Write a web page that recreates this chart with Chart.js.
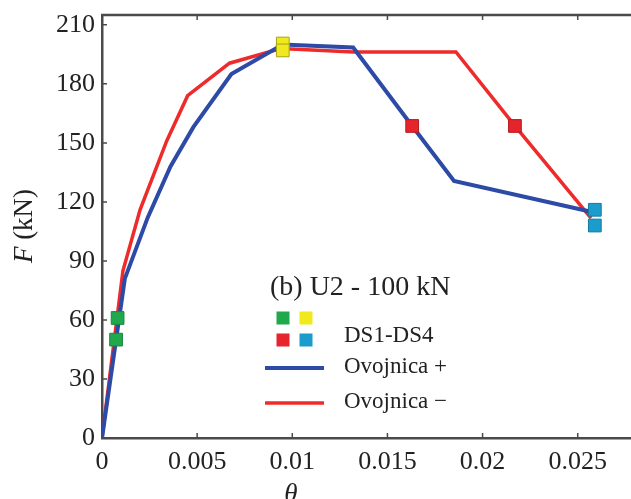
<!DOCTYPE html>
<html>
<head>
<meta charset="utf-8">
<script src="https://cdn.jsdelivr.net/npm/chart.js@4.4.0/dist/chart.umd.min.js"></script>
<style>
  html, body { margin: 0; padding: 0; background: #fff; }
  #wrap { width: 631px; height: 499px; }
</style>
</head>
<body>
<div id="wrap"><canvas id="envelope" width="631" height="499"></canvas></div>
<script>
// values
const xTicks = [0, 0.005, 0.01, 0.015, 0.02, 0.025];
const yTicks = [0, 30, 60, 90, 120, 150, 180, 210];

const plusTheta = [0, 0.0012, 0.0024, 0.0036, 0.0048, 0.0068, 0.0095, 0.0132, 0.0163, 0.0185, 0.0257];
const plusF = [0, 81, 112, 138, 158, 185, 200, 198.5, 158.6, 130.7, 115];

const minusTheta = [0, 0.0011, 0.002, 0.0034, 0.0045, 0.0067, 0.0094, 0.0132, 0.0186, 0.0217, 0.0257];
const minusF = [0, 85, 116, 151, 174, 190.5, 198, 196.2, 196.2, 158.6, 111.8];

const ds1 = [[0.00082, 61], [0.00074, 50]];
const ds2 = [[0.0095, 200.5], [0.0095, 197]];
const ds3 = [[0.0163, 158.6], [0.0217, 158.6]];
const ds4 = [[0.0259, 116], [0.0259, 108]];

const colors = {
  plus: "#2c4aa6",
  minus: "#ee2b2b",
  ds1: "#1fa84c",
  ds2: "#f0ea1c",
  ds3: "#e5242c",
  ds4: "#1b9ccd",
};

const toXY = (xs, ys) => xs.map((x, i) => ({ x: x, y: ys[i] }));
const pts = (arr) => arr.map((p) => ({ x: p[0], y: p[1] }));

function markerSet(label, arr, color, edge) {
  return {
    label: label,
    data: pts(arr),
    showLine: false,
    pointStyle: "rect",
    pointRadius: 9,
    pointHoverRadius: 9,
    backgroundColor: color,
    borderColor: edge,
    pointBorderWidth: 1,
    order: 0,
  };
}

const serif = "'Liberation Serif', 'DejaVu Serif', serif";

// inward ticks, top frame, axis titles, legend
const decor = {
  id: "decor",
  beforeDatasetsDraw(chart) {
    const { ctx, chartArea: a, scales } = chart;
    ctx.save();
    ctx.strokeStyle = "#4a4a4a";
    ctx.lineWidth = 2.5;
    ctx.beginPath();
    ctx.moveTo(a.left - 1, a.top);
    ctx.lineTo(a.right, a.top);
    ctx.stroke();
    ctx.lineWidth = 1.5;
    ctx.beginPath();
    xTicks.forEach((v) => {
      const px = scales.x.getPixelForValue(v);
      ctx.moveTo(px, a.bottom);
      ctx.lineTo(px, a.bottom - 5);
      ctx.moveTo(px, a.top);
      ctx.lineTo(px, a.top + 5);
    });
    yTicks.forEach((v) => {
      const py = scales.y.getPixelForValue(v);
      ctx.moveTo(a.left, py);
      ctx.lineTo(a.left + 5, py);
    });
    ctx.stroke();
    ctx.restore();
  },
  afterDraw(chart) {
    const { ctx } = chart;
    ctx.save();
    ctx.fillStyle = "#222";
    ctx.textBaseline = "middle";

    // y title
    ctx.save();
    ctx.translate(25, 226);
    ctx.rotate(-Math.PI / 2);
    ctx.font = "italic 27px " + serif;
    const fW = ctx.measureText("F").width;
    ctx.font = "27px " + serif;
    const restW = ctx.measureText(" (kN)").width;
    const start = -(fW + restW) / 2;
    ctx.textAlign = "left";
    ctx.font = "italic 27px " + serif;
    ctx.fillText("F", start, 0);
    ctx.font = "27px " + serif;
    ctx.fillText(" (kN)", start + fW, 0);
    ctx.restore();

    // x title
    ctx.font = "italic 27px " + serif;
    ctx.textAlign = "center";
    ctx.textBaseline = "alphabetic";
    ctx.fillText("θ", 291, 502);

    // legend
    ctx.textBaseline = "middle";
    ctx.textAlign = "left";
    ctx.font = "28px " + serif;
    ctx.fillText("(b) U2 - 100 kN", 270, 288);

    const sq = [
      [283, 318, colors.ds1],
      [306, 318, colors.ds2],
      [283, 340, colors.ds3],
      [306, 340, colors.ds4],
    ];
    sq.forEach((s) => {
      ctx.fillStyle = s[2];
      ctx.fillRect(s[0] - 6.5, s[1] - 6.5, 13, 13);
    });

    ctx.lineWidth = 4;
    ctx.strokeStyle = colors.plus;
    ctx.beginPath();
    ctx.moveTo(265, 368);
    ctx.lineTo(324, 368);
    ctx.stroke();
    ctx.lineWidth = 3.5;
    ctx.strokeStyle = colors.minus;
    ctx.beginPath();
    ctx.moveTo(265, 403);
    ctx.lineTo(324, 403);
    ctx.stroke();

    ctx.fillStyle = "#222";
    ctx.font = "23px " + serif;
    ctx.fillText("DS1-DS4", 344, 336);
    ctx.fillText("Ovojnica +", 344, 367);
    ctx.fillText("Ovojnica \u2212", 344, 402);
    ctx.restore();
  },
};

const config = {
  type: "scatter",
  data: {
    datasets: [
      markerSet("DS1", ds1, colors.ds1, "#178a3c"),
      markerSet("DS2", ds2, colors.ds2, "#a8a21a"),
      markerSet("DS3", ds3, colors.ds3, "#b41c22"),
      markerSet("DS4", ds4, colors.ds4, "#157aa0"),
      {
        label: "Ovojnica +",
        data: toXY(plusTheta, plusF),
        showLine: true,
        borderColor: colors.plus,
        borderWidth: 4,
        pointRadius: 0,
        tension: 0,
        order: 1,
      },
      {
        label: "Ovojnica \u2212",
        data: toXY(minusTheta, minusF),
        showLine: true,
        borderColor: colors.minus,
        borderWidth: 3.5,
        pointRadius: 0,
        tension: 0,
        order: 2,
      },
    ],
  },
  options: {
    responsive: false,
    animation: false,
    layout: { autoPadding: false, padding: { top: 15, left: 0, right: 0, bottom: 0 } },
    plugins: {
      legend: { display: false },
      tooltip: { enabled: false },
    },
    scales: {
      x: {
        type: "linear",
        min: 0,
        max: 0.0278,
        afterBuildTicks: (s) => { s.ticks = xTicks.map((v) => ({ value: v })); },
        afterFit: (s) => { s.height = 61; s.paddingLeft = 0; s.paddingRight = 0; },
        grid: { display: false, drawTicks: false },
        border: { display: true, color: "#4a4a4a", width: 2.5 },
        ticks: {
          padding: 9,
          color: "#222",
          font: { family: serif, size: 26 },
          maxRotation: 0,
          callback: (v) => String(v),
        },
      },
      y: {
        type: "linear",
        min: 0,
        max: 215,
        afterBuildTicks: (s) => { s.ticks = yTicks.map((v) => ({ value: v })); },
        afterFit: (s) => { s.width = 102; s.paddingTop = 0; s.paddingBottom = 0; },
        grid: { display: false, drawTicks: false },
        border: { display: true, color: "#4a4a4a", width: 2.5 },
        ticks: {
          padding: 7,
          color: "#222",
          font: { family: serif, size: 26 },
          callback: (v) => String(v),
        },
      },
    },
  },
  plugins: [decor],
};

new Chart(document.getElementById("envelope"), config);
</script>
</body>
</html>
